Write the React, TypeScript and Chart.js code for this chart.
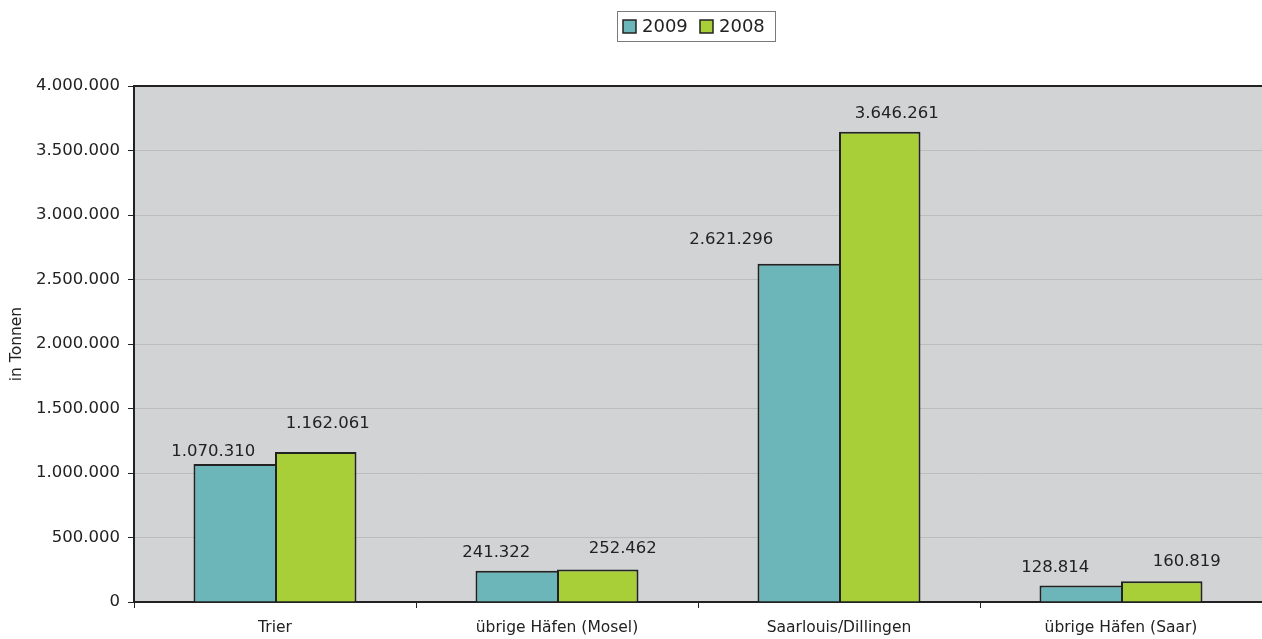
import React, { useEffect, useRef } from "react";
import { Chart, registerables } from "chart.js";

Chart.register(...registerables);

const categories = ["Trier", "übrige Häfen (Mosel)", "Saarlouis/Dillingen", "übrige Häfen (Saar)"];
const series2009 = [1070310, 241322, 2621296, 128814];
const series2008 = [1162061, 252462, 3646261, 160819];
const seriesLabels = ["2009", "2008"];
const yTicks = [0, 500000, 1000000, 1500000, 2000000, 2500000, 3000000, 3500000, 4000000];

// label nudges (pixels) to mimic the manually placed value labels
const labelDx2009 = [-21, -20, -67, -25];
const labelGap2009 = [8, 14, 20, 13];
const labelDx2008 = [12, 25, 17, 25];
const labelGap2008 = [24, 16, 14, 15];

const COLOR_2009 = "#6cb6b9";
const COLOR_2008 = "#a8cf38";
const FONT = "'DejaVu Sans', sans-serif";

const fmt = (v: number) => Math.round(v).toString().replace(/\B(?=(\d{3})+(?!\d))/g, ".");

export default function App() {
  const ref = useRef<HTMLCanvasElement | null>(null);

  useEffect(() => {
    if (!ref.current) return;

    const plotBg = {
      id: "plotBg",
      beforeDraw(chart: any) {
        const { ctx, chartArea } = chart;
        ctx.save();
        ctx.fillStyle = "#d2d3d5";
        ctx.fillRect(chartArea.left, chartArea.top, chartArea.right - chartArea.left, chartArea.bottom - chartArea.top);
        ctx.restore();
      },
      afterDraw(chart: any) {
        const { ctx, chartArea } = chart;
        ctx.save();
        // top border
        ctx.strokeStyle = "#222";
        ctx.lineWidth = 2;
        ctx.beginPath();
        ctx.moveTo(chartArea.left, chartArea.top);
        ctx.lineTo(chartArea.right, chartArea.top);
        ctx.stroke();

        // value labels
        ctx.font = `16.5px ${FONT}`;
        ctx.fillStyle = "#222";
        ctx.textAlign = "center";
        ctx.textBaseline = "alphabetic";
        const dxs = [labelDx2009, labelDx2008];
        const gaps = [labelGap2009, labelGap2008];
        chart.data.datasets.forEach((ds: any, di: number) => {
          const meta = chart.getDatasetMeta(di);
          meta.data.forEach((bar: any, i: number) => {
            ctx.fillText(fmt(ds.data[i]), bar.x + dxs[di][i], bar.y - gaps[di][i]);
          });
        });

        // legend
        const lx = 617, ly = 11, lw = 158, lh = 30;
        ctx.strokeStyle = "#7a7a7a";
        ctx.lineWidth = 1;
        ctx.strokeRect(lx + 0.5, ly + 0.5, lw, lh);
        ctx.font = `18px ${FONT}`;
        ctx.textAlign = "left";
        ctx.textBaseline = "middle";
        const items = [
          { x: 623, color: COLOR_2009, label: seriesLabels[0] },
          { x: 700, color: COLOR_2008, label: seriesLabels[1] },
        ];
        items.forEach((it) => {
          ctx.fillStyle = it.color;
          ctx.fillRect(it.x, 20, 13, 13);
          ctx.strokeStyle = "#222";
          ctx.lineWidth = 1.5;
          ctx.strokeRect(it.x, 20, 13, 13);
          ctx.fillStyle = "#222";
          ctx.fillText(it.label, it.x + 19, 27);
        });
        ctx.restore();
      },
    };

    const chart = new Chart(ref.current, {
      type: "bar",
      data: {
        labels: categories,
        datasets: [
          {
            label: seriesLabels[0],
            data: series2009,
            backgroundColor: COLOR_2009,
            borderColor: "#222",
            borderWidth: { top: 2, left: 2, right: 0, bottom: 0 },
            borderSkipped: false,
          },
          {
            label: seriesLabels[1],
            data: series2008,
            backgroundColor: COLOR_2008,
            borderColor: "#222",
            borderWidth: 2,
            borderSkipped: "bottom",
          },
        ],
      },
      options: {
        responsive: false,
        animation: false,
        layout: { padding: { top: 86, right: 0, left: 0, bottom: 0 } },
        datasets: { bar: { categoryPercentage: 0.578, barPercentage: 1.0 } },
        plugins: {
          legend: { display: false },
          tooltip: { enabled: false },
          title: { display: false },
        },
        scales: {
          x: {
            offset: true,
            grid: {
              display: true,
              drawOnChartArea: false,
              drawTicks: true,
              tickLength: 6,
              tickColor: "#222",
              offset: true,
            },
            border: { display: true, color: "#222", width: 2 },
            ticks: {
              color: "#222",
              font: { family: FONT, size: 15.5 },
              padding: 11,
              maxRotation: 0,
              autoSkip: false,
            },
            afterFit(scale: any) {
              scale.height = 37;
            },
          },
          y: {
            min: 0,
            max: 4000000,
            afterBuildTicks(scale: any) {
              scale.ticks = yTicks.map((v) => ({ value: v }));
            },
            grid: {
              color: "#bcbcbc",
              lineWidth: 1,
              drawTicks: true,
              tickLength: 6,
              tickColor: "#222",
            },
            border: { display: true, color: "#222", width: 2 },
            ticks: {
              color: "#222",
              font: { family: FONT, size: 16.5 },
              padding: 8,
              callback: (v: any) => fmt(Number(v)),
            },
            title: {
              display: true,
              text: "in Tonnen",
              color: "#222",
              font: { family: FONT, size: 15.5 },
              padding: { top: 8, bottom: 0 },
            },
            afterFit(scale: any) {
              scale.width = 134;
            },
          },
        },
      },
      plugins: [plotBg],
    } as any);

    return () => chart.destroy();
  }, []);

  return (
    <div style={{ position: "absolute", left: 0, top: 0, width: 1262, height: 639, background: "#fff" }}>
      <canvas ref={ref} width={1262} height={639} style={{ display: "block" }} />
    </div>
  );
}
